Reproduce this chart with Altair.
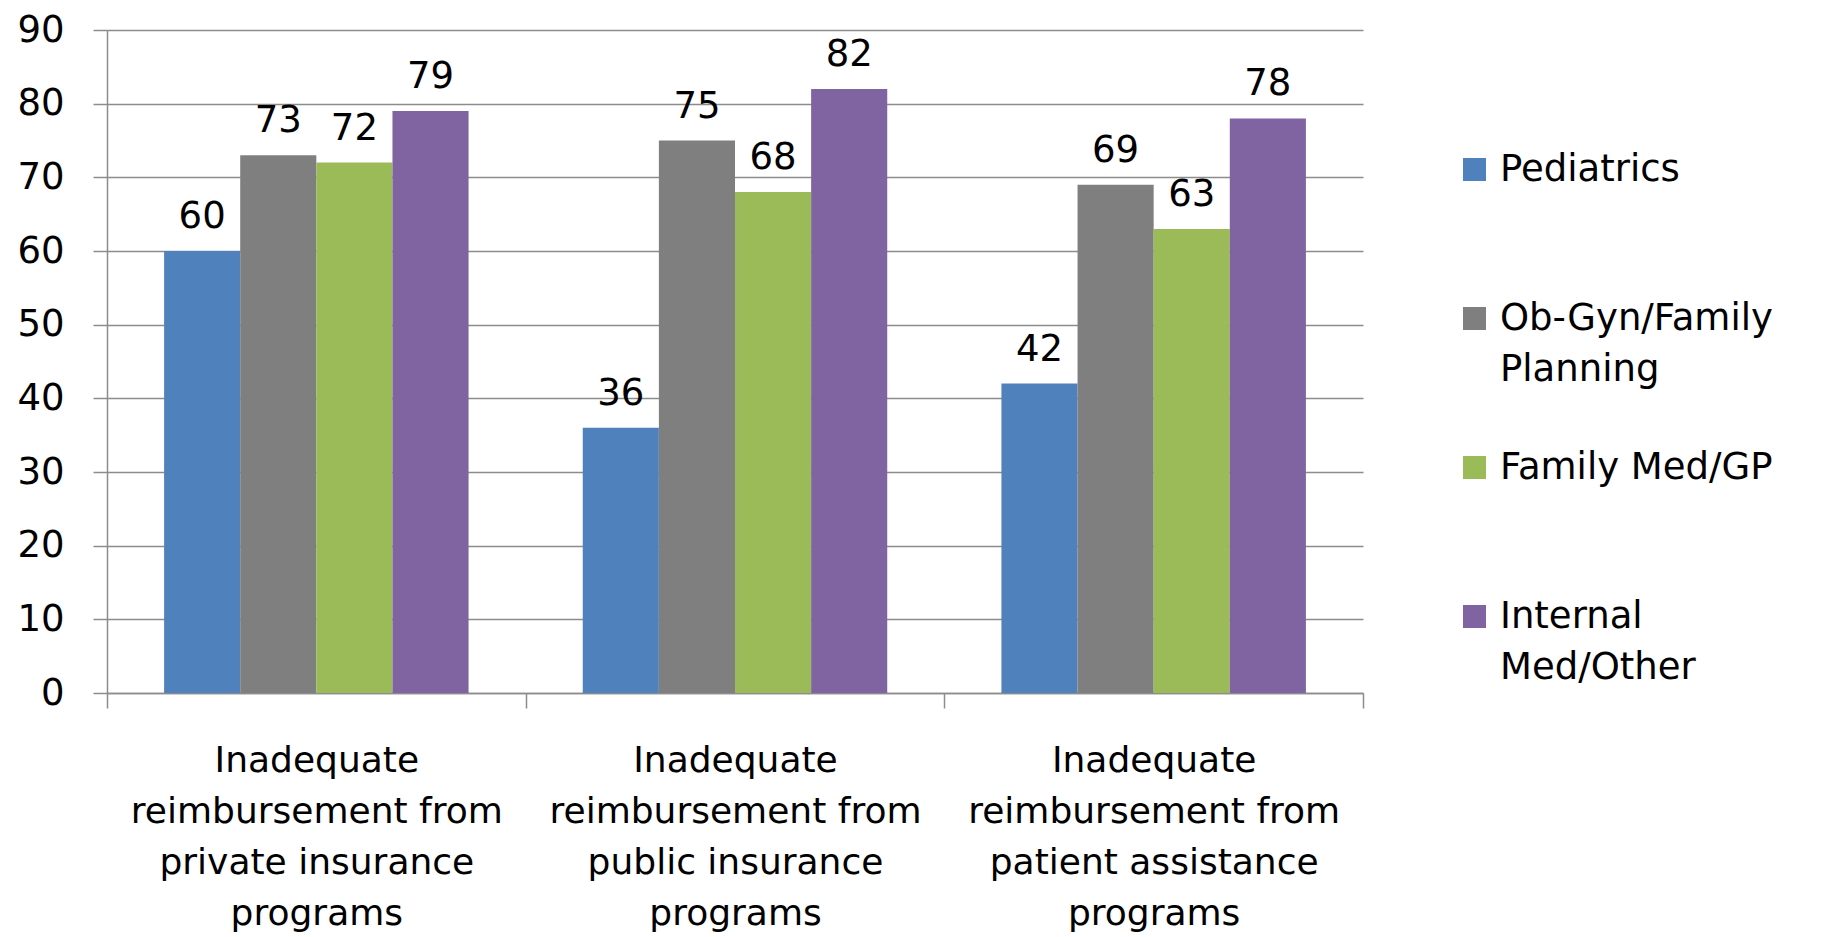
import altair as alt
import pandas as pd

categories = [
    "Inadequate|reimbursement from|private insurance|programs",
    "Inadequate|reimbursement from|public insurance|programs",
    "Inadequate|reimbursement from|patient assistance|programs",
]
series = ["Pediatrics", "Ob-Gyn/Family Planning", "Family Med/GP", "Internal Med/Other"]
pediatrics = [60, 36, 42]
obgyn = [73, 75, 69]
family_med = [72, 68, 63]
internal_med = [79, 82, 78]
colors = ["#4F81BD", "#7F7F7F", "#9BBB59", "#8064A2"]
y_ticks = [0, 10, 20, 30, 40, 50, 60, 70, 80, 90]

rows = []
for s, vals in zip(series, [pediatrics, obgyn, family_med, internal_med]):
    for c, v in zip(categories, vals):
        rows.append({"category": c, "series": s, "value": v})
df = pd.DataFrame(rows)

FONT = "DejaVu Sans"
GRID = "#8C8C8C"

base = alt.Chart(df).encode(
    x=alt.X(
        "category:N",
        sort=categories,
        scale=alt.Scale(paddingInner=0, paddingOuter=0),
        axis=alt.Axis(
            title=None,
            labelAngle=0,
            labelExpr="split(datum.label, '|')",
            labelFont=FONT,
            labelFontSize=36,
            labelLineHeight=51,
            labelLimit=600,
            labelColor="black",
            labelBaseline="top",
            labelPadding=35,
            tickBand="extent",
            tickSize=15,
            tickColor=GRID,
            tickWidth=1.5,
            domainColor=GRID,
            domainWidth=1.5,
            grid=False,
        ),
    ),
    xOffset=alt.XOffset("series:N", sort=series, scale=alt.Scale(paddingOuter=0.75, paddingInner=0)),
)

bars = base.mark_bar().encode(
    y=alt.Y(
        "value:Q",
        scale=alt.Scale(domain=[0, 90], nice=False),
        axis=alt.Axis(
            title=None,
            values=y_ticks,
            labelFont=FONT,
            labelFontSize=37,
            labelColor="black",
            labelPadding=29,
            tickSize=14,
            tickColor=GRID,
            tickWidth=1.5,
            domainColor=GRID,
            domainWidth=1.5,
            gridColor=GRID,
            gridWidth=1.5,
            gridOpacity=1,
        ),
    ),
    color=alt.Color(
        "series:N",
        sort=series,
        scale=alt.Scale(domain=series, range=colors),
        legend=alt.Legend(
            title=None,
            orient="none",
            legendX=1349,
            legendY=121,
            symbolType="square",
            symbolSize=529,
            symbolStrokeWidth=0,
            labelFont=FONT,
            labelFontSize=37,
            labelColor="black",
            labelOffset=7,
            labelLimit=400,
            labelBaseline="middle",
            rowPadding=60,
            labelExpr="datum.label == 'Ob-Gyn/Family Planning' ? ['Ob-Gyn/Family', 'Planning'] : datum.label == 'Internal Med/Other' ? ['Internal', 'Med/Other'] : [datum.label, '']",
        ),
    ),
)

labels = base.mark_text(
    font=FONT, fontSize=37, color="black", baseline="alphabetic", dy=-23
).encode(
    y="value:Q",
    text="value:Q",
)

chart = (
    alt.layer(bars, labels)
    .properties(width=1256, height=663, padding={"left": 8, "top": 3, "right": 5, "bottom": 5})
    .configure(style={"guide-label": {"lineHeight": 51}})
    .configure_view(stroke=None)
)

chart.save("out.html", embed_options={"renderer": "svg", "actions": False})
